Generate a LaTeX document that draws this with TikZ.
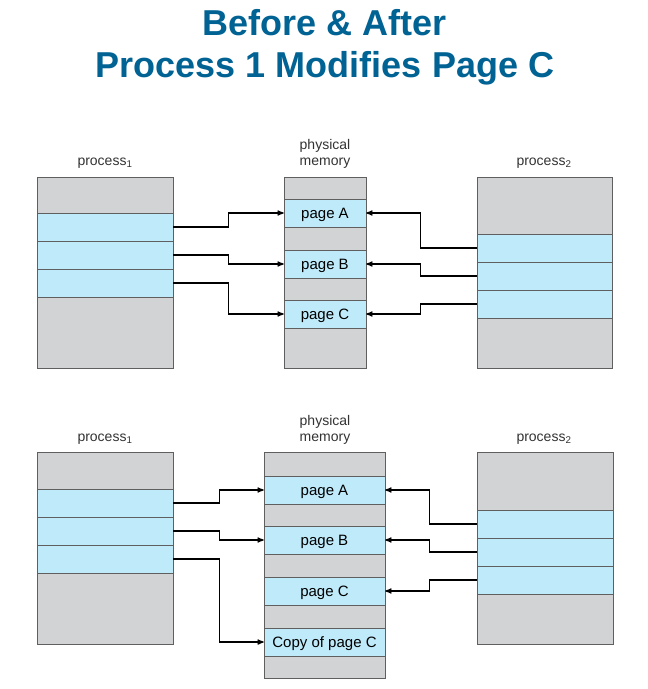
\documentclass[tikz,border=0pt]{standalone}
\usepackage{fontspec}
\setmainfont{Liberation Sans}
\usepackage{xcolor}
\usetikzlibrary{arrows}
\definecolor{title-blue}{RGB}{0,99,148}
\definecolor{frame-gray}{RGB}{209,211,212}
\definecolor{page-blue}{RGB}{190,234,250}
\definecolor{rule-gray}{RGB}{95,95,95}
\tikzstyle{frame}=[draw=rule-gray, line width=0.6pt, fill=frame-gray, inner sep=0pt]
\tikzstyle{page}=[draw=rule-gray, line width=0.6pt, fill=page-blue, inner sep=0pt, minimum height=28pt, text depth=0pt, font=\fontsize{15}{16}\selectfont]
\tikzstyle{caption}=[font=\fontsize{14}{16}\selectfont, align=center, text=black!80]
\tikzstyle{heading}=[font=\fontsize{36}{40}\selectfont\bfseries, text=title-blue]
\tikzstyle{link}=[line width=1.2pt, ->, >=stealth']
\newcommand{\procrows}[4]{
	\node[page, minimum width=#2] (#1a) at (#3,#4) {};
	\node[page, minimum width=#2] (#1b) at (#3,#4+28) {};
	\node[page, minimum width=#2] (#1c) at (#3,#4+56) {};
}

\begin{document}
\begin{tikzpicture}[x=1pt,y=-1pt]
	\fill[white] (0,0) rectangle (648,689);
	\node[heading] (head1) at (325,23) {Before \& After};
	\node[heading] (head2) at (325,68) {Process 1 Modifies Page C};
	% before
	\node[frame, minimum width=136pt, minimum height=191pt] (p1top) at (105,272.5) {};
	\procrows{u}{136pt}{105}{227}
	\node[frame, minimum width=82pt, minimum height=191pt] (mtop) at (325,272.5) {};
	\node[page, minimum width=82pt] (tA) at (325,213) {page A};
	\node[page, minimum width=82pt] (tB) at (325,264) {page B};
	\node[page, minimum width=82pt] (tC) at (325,314) {page C};
	\node[frame, minimum width=135pt, minimum height=191pt] (p2top) at (544.5,272.5) {};
	\procrows{v}{135pt}{544.5}{248}
	\node[caption] (l1top) at (105,163) {process\textsubscript{1}};
	\node[caption] (lmtop) at (325,154) {physical\\memory};
	\node[caption] (l2top) at (544,163) {process\textsubscript{2}};
	\draw[link] (ua.east) -- ++(55,0) |- (tA.west);
	\draw[link] (ub.east) -- ++(55,0) |- (tB.west);
	\draw[link] (uc.east) -- ++(55,0) |- (tC.west);
	\draw[link] (va.west) -- ++(-56,0) |- (tA.east);
	\draw[link] (vb.west) -- ++(-56,0) |- (tB.east);
	\draw[link] (vc.west) -- ++(-56,0) |- (tC.east);
	% after
	\node[frame, minimum width=136pt, minimum height=192pt] (p1bot) at (105,548) {};
	\procrows{x}{136pt}{105}{503}
	\node[frame, minimum width=121pt, minimum height=226pt] (mbot) at (324.5,565) {};
	\node[page, minimum width=121pt] (bA) at (324.5,490) {page A};
	\node[page, minimum width=121pt] (bB) at (324.5,540) {page B};
	\node[page, minimum width=121pt] (bC) at (324.5,591) {page C};
	\node[page, minimum width=121pt] (bCopy) at (324.5,642) {Copy of page C};
	\node[frame, minimum width=136pt, minimum height=192pt] (p2bot) at (545,548) {};
	\procrows{y}{136pt}{545}{524}
	\node[caption] (l1bot) at (105,439) {process\textsubscript{1}};
	\node[caption] (lmbot) at (325,430) {physical\\memory};
	\node[caption] (l2bot) at (544,439) {process\textsubscript{2}};
	\draw[link] (xa.east) -- ++(46,0) |- (bA.west);
	\draw[link] (xb.east) -- ++(46,0) |- (bB.west);
	\draw[link] (xc.east) -- ++(46,0) |- (bCopy.west);
	\draw[link] (ya.west) -- ++(-47,0) |- (bA.east);
	\draw[link] (yb.west) -- ++(-47,0) |- (bB.east);
	\draw[link] (yc.west) -- ++(-47,0) |- (bC.east);
\end{tikzpicture}
\end{document}
